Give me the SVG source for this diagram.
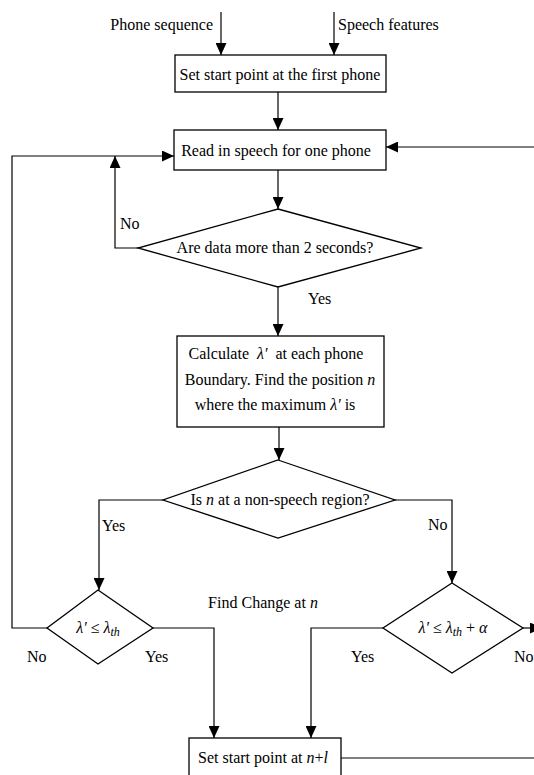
<svg xmlns="http://www.w3.org/2000/svg" width="534" height="775" viewBox="0 0 534 775">
<style>
text{font-family:"Liberation Serif","Times New Roman",serif;font-size:16px;fill:#000}
.m{text-anchor:middle}
.e{text-anchor:end}
.i{font-style:italic}
.box{fill:#fff;stroke:#000;stroke-width:1.3}
.c{fill:none;stroke:#000;stroke-width:1.2}
</style>
<defs>
<marker id="ah" markerUnits="userSpaceOnUse" markerWidth="12" markerHeight="11" refX="12" refY="5.5" orient="auto">
<path d="M0,0 L12,5.5 L0,11 z" fill="#000"/>
</marker>
</defs>
<g id="connectors">
<path class="c" d="M221,12 V55" marker-end="url(#ah)"/>
<path class="c" d="M334,12 V55" marker-end="url(#ah)"/>
<path class="c" d="M278,92 V130" marker-end="url(#ah)"/>
<path class="c" d="M278,170 V209" marker-end="url(#ah)"/>
<path class="c" d="M138,248 H115 V156" marker-end="url(#ah)"/>
<path class="c" d="M278,287 V336" marker-end="url(#ah)"/>
<path class="c" d="M279,427 V460" marker-end="url(#ah)"/>
<path class="c" d="M163,500 H99 V590" marker-end="url(#ah)"/>
<path class="c" d="M395,500 H452 V583" marker-end="url(#ah)"/>
<path class="c" d="M47,628 H12 V156 H174" marker-end="url(#ah)"/>
<path class="c" d="M153,628 H214 V738" marker-end="url(#ah)"/>
<path class="c" d="M383,628 H311 V738" marker-end="url(#ah)"/>
<path class="c" d="M523,628 H542" marker-end="url(#ah)"/>
<path class="c" d="M341,758 H534"/>
<path class="c" d="M534,147 H386" marker-end="url(#ah)"/>
</g>
<g id="inputs">
<text class="e" x="213" y="30">Phone sequence</text>
<text x="338" y="30">Speech features</text>
</g>
<g id="box1">
<rect class="box" x="175" y="55" width="211" height="37"/>
<text class="m" x="280" y="80">Set start point at the first phone</text>
</g>
<g id="box2">
<rect class="box" x="174" y="130" width="212" height="40"/>
<text class="m" x="276" y="156">Read in speech for one phone</text>
</g>
<g id="d1">
<polygon class="box" points="278,209 421,248 278,287 138,248"/>
<text class="m" x="275" y="253">Are data more than 2 seconds?</text>
<text x="120" y="229">No</text>
<text x="308" y="304">Yes</text>
</g>
<g id="box3">
<rect class="box" x="177" y="336" width="207" height="91"/>
<text class="m" x="276" y="359">Calculate <tspan class="i" dx="4">λ′</tspan><tspan dx="4"> at each phone</tspan></text>
<text class="m" x="280" y="385">Boundary. Find the position <tspan class="i">n</tspan></text>
<text class="m" x="275" y="410">where the maximum <tspan class="i">λ′</tspan> is</text>
</g>
<g id="d2">
<polygon class="box" points="278,460 395,500 278,538 163,500"/>
<text class="m" x="280" y="505">Is <tspan class="i">n</tspan> at a non-speech region?</text>
<text x="102" y="531">Yes</text>
<text x="428" y="530">No</text>
</g>
<g id="findchange">
<text class="m" x="263" y="608">Find Change at <tspan class="i">n</tspan></text>
</g>
<g id="d3">
<polygon class="box" points="98,590 153,628 98,664 47,628"/>
<text class="m" x="98" y="633"><tspan class="i">λ′</tspan> ≤ <tspan class="i">λ<tspan font-size="12" dy="3">th</tspan></tspan></text>
<text x="27" y="662">No</text>
<text x="145" y="662">Yes</text>
</g>
<g id="d4">
<polygon class="box" points="452,583 523,628 452,673 383,628"/>
<text class="m" x="453" y="633"><tspan class="i">λ′</tspan> ≤ <tspan class="i">λ<tspan font-size="12" dy="3">th</tspan></tspan><tspan dy="-3"> + </tspan><tspan class="i">α</tspan></text>
<text x="351" y="662">Yes</text>
<text x="514" y="662">No</text>
</g>
<g id="box4">
<rect class="box" x="189" y="738" width="152" height="50"/>
<text class="m" x="263" y="763">Set start point at <tspan class="i">n</tspan>+<tspan class="i">l</tspan></text>
</g>
</svg>
